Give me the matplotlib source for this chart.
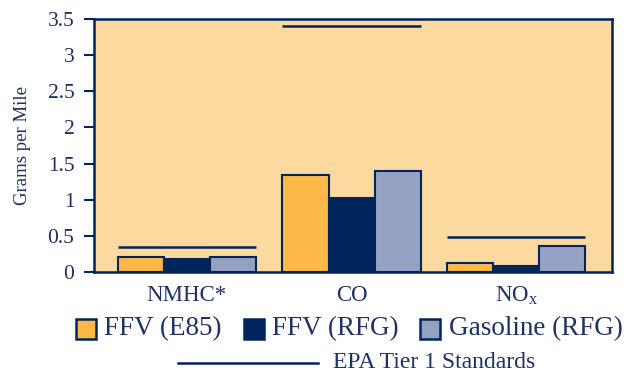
import matplotlib
matplotlib.use("Agg")
import matplotlib.pyplot as plt
from matplotlib.patches import Rectangle
from matplotlib.lines import Line2D
import numpy as np

categories = ["NMHC*", "CO", "NO$_\\mathregular{x}$"]
series_names = ["FFV (E85)", "FFV (RFG)", "Gasoline (RFG)"]
ffv_e85 = [0.21, 1.34, 0.12]
ffv_rfg = [0.18, 1.02, 0.08]
gasoline_rfg = [0.21, 1.40, 0.36]
epa_tier1 = [0.34, 3.40, 0.48]
yticks = [0, 0.5, 1, 1.5, 2, 2.5, 3, 3.5]
ytick_labels = ["0", "0.5", "1", "1.5", "2", "2.5", "3", "3.5"]
standard_label = "EPA Tier 1 Standards"

NAVY = "#00245C"
TEXT = "#1E3163"
ORANGE = "#FDB947"
GRAY = "#94A1C1"
BG = "#FBD99F"

plt.rcParams["font.family"] = ["Liberation Serif", "DejaVu Serif"]
plt.rcParams["mathtext.fontset"] = "custom"
plt.rcParams["mathtext.rm"] = "Liberation Serif"

fig = plt.figure(figsize=(6.34, 3.77), dpi=100)
ax = fig.add_axes([0.148, 0.2785, 0.817, 0.671])
ax.set_facecolor(BG)

x = np.arange(len(categories))
w = 0.28
colors = [ORANGE, NAVY, GRAY]
for i, (vals, c) in enumerate(zip([ffv_e85, ffv_rfg, gasoline_rfg], colors)):
    ax.bar(x + (i - 1) * w, vals, width=w, color=c, edgecolor=NAVY,
           linewidth=1.5, zorder=3)
for xi, s in zip(x, epa_tier1):
    ax.hlines(s, xi - 1.5 * w, xi + 1.5 * w, color=NAVY, linewidth=1.8, zorder=4)

ax.set_xlim(-0.565, 2.58)
ax.set_ylim(0, 3.5)
ax.set_yticks(yticks)
ax.set_yticklabels(ytick_labels, fontsize=15.5, color=TEXT)
ax.set_xticks(x)
ax.set_xticklabels(categories, fontsize=16.5, color=TEXT)
ax.tick_params(axis="x", length=0, pad=9)
ax.tick_params(axis="y", length=7, width=1.5, color=NAVY, pad=7)
for sp in ax.spines.values():
    sp.set_color(NAVY)
    sp.set_linewidth(1.8)
ax.set_ylabel("Grams per Mile", fontsize=13.5, color=TEXT, labelpad=12)

# legend row 1
row_y = 1 - 329 / 377
ph = 20 / 377
pw = 20 / 634
items = [(76, 104, ORANGE, series_names[0]), (244, 272, NAVY, series_names[1]),
         (420, 449, GRAY, series_names[2])]
for px, tx, c, lab in items:
    fig.patches.append(Rectangle((px / 634, row_y - ph / 2), pw, ph,
                                 facecolor=c, edgecolor=NAVY, linewidth=1.8,
                                 transform=fig.transFigure, figure=fig))
    fig.text(tx / 634, row_y, lab, fontsize=19.5, color=TEXT, va="center", ha="left")

# legend row 2
r2 = 1 - 363 / 377
fig.lines.append(Line2D([178 / 634, 318 / 634], [r2, r2], color=NAVY,
                        linewidth=1.8, transform=fig.transFigure))
fig.text(333 / 634, r2, standard_label, fontsize=17, color=TEXT,
         va="center", ha="left")

fig.savefig("out.png", dpi=100, facecolor="white")
